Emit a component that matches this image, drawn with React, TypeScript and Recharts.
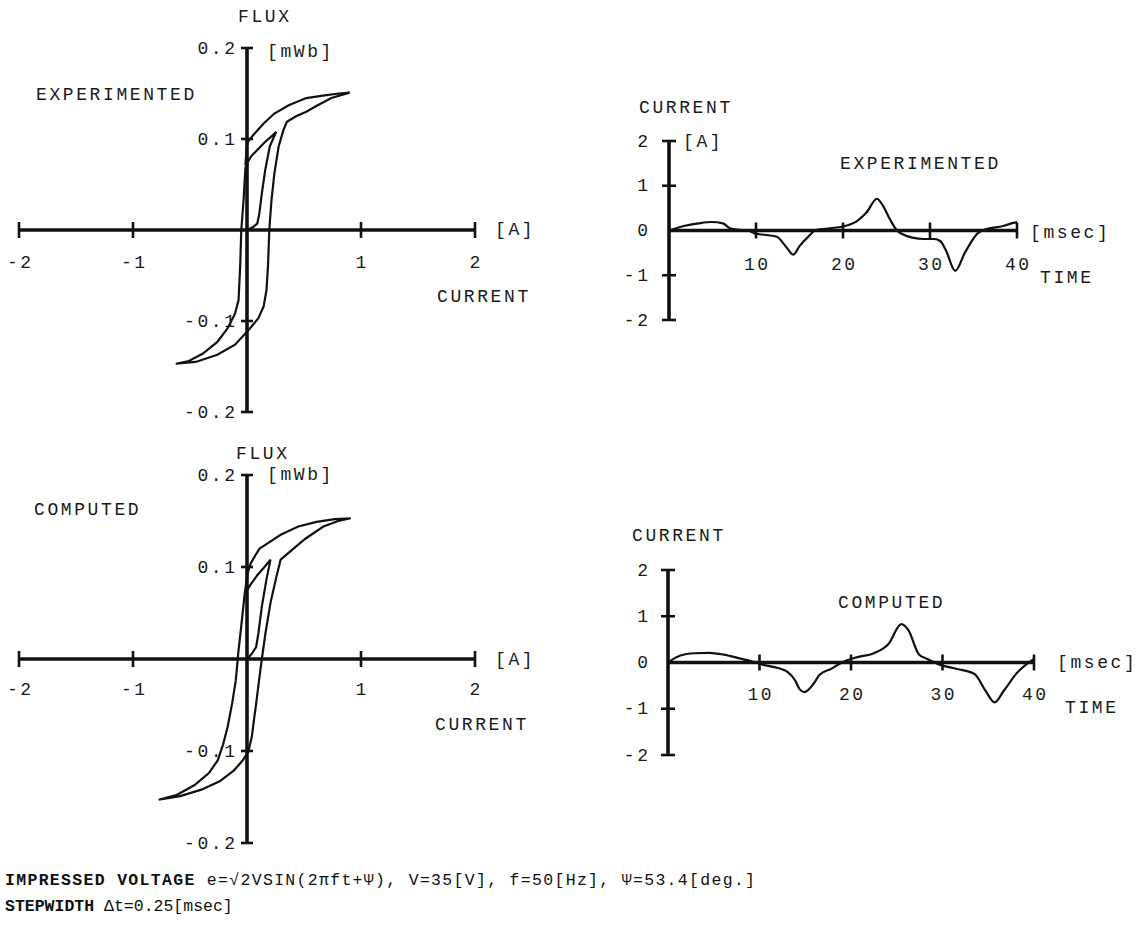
import React from 'react';
import { LineChart, Line, XAxis, YAxis, ReferenceLine, ReferenceDot } from 'recharts';

// ---------- DATA ----------
// Experimented hysteresis loop (current [A], flux [mWb]) in drawing order
const expLoopCurrent = [0.0, 0.05, 0.09, 0.108, 0.13, 0.16, 0.2, 0.256, 0.225, 0.16, 0.09, 0.036, 0.0, -0.014, -0.03, -0.05, -0.06, -0.074, -0.105, -0.17, -0.26, -0.39, -0.51, -0.625, -0.45, -0.26, -0.105, 0.02, 0.1, 0.146, 0.171, 0.184, 0.196, 0.215, 0.24, 0.278, 0.32, 0.35, 0.43, 0.52, 0.62, 0.74, 0.9, 0.806, 0.68, 0.52, 0.366, 0.24, 0.146, 0.067, 0.02, 0.0, -0.014];
const expLoopFlux = [0.0, 0.003, 0.007, 0.018, 0.04, 0.066, 0.092, 0.108, 0.104, 0.097, 0.088, 0.081, 0.073, 0.068, 0.033, 0.0, -0.04, -0.077, -0.092, -0.108, -0.123, -0.136, -0.144, -0.147, -0.145, -0.137, -0.126, -0.109, -0.097, -0.084, -0.066, -0.04, 0.001, 0.033, 0.062, 0.092, 0.11, 0.119, 0.125, 0.13, 0.137, 0.145, 0.151, 0.15, 0.148, 0.145, 0.137, 0.128, 0.117, 0.106, 0.099, 0.095, 0.071];

// Computed hysteresis loop
const compLoopCurrent = [0.0, 0.043, 0.08, 0.1, 0.13, 0.17, 0.206, 0.153, 0.09, 0.037, -0.02, -0.045, -0.077, -0.098, -0.13, -0.17, -0.21, -0.256, -0.334, -0.46, -0.62, -0.775, -0.586, -0.4, -0.24, -0.114, -0.036, 0.011, 0.043, 0.059, 0.081, 0.106, 0.13, 0.162, 0.206, 0.257, 0.295, 0.39, 0.515, 0.67, 0.8, 0.91, 0.77, 0.61, 0.45, 0.295, 0.184, 0.11, 0.075, 0.033, 0.005, -0.02];
const compLoopFlux = [0.0, 0.006, 0.013, 0.028, 0.057, 0.086, 0.108, 0.1, 0.091, 0.082, 0.071, 0.042, 0.006, -0.023, -0.048, -0.074, -0.093, -0.11, -0.124, -0.137, -0.148, -0.153, -0.149, -0.142, -0.133, -0.121, -0.11, -0.101, -0.084, -0.068, -0.048, -0.023, 0.0, 0.028, 0.061, 0.089, 0.108, 0.118, 0.131, 0.144, 0.15, 0.153, 0.152, 0.149, 0.144, 0.135, 0.126, 0.12, 0.113, 0.104, 0.093, 0.071];

// Experimented current waveform (time [msec], current [A])
const expTime = [0, 1.7, 3.4, 4.9, 6.2, 7.0, 7.8, 9.1, 9.9, 10.7, 12.4, 13.4, 14.3, 15.0, 16.1, 16.9, 18.5, 20.2, 21.6, 22.7, 23.9, 24.6, 25.4, 26.2, 26.8, 28.0, 29.3, 30.5, 31.2, 31.8, 32.9, 34.0, 35.5, 36.3, 38.4, 39.6, 40.0];
const expCurrent = [0, 0.1, 0.16, 0.19, 0.16, 0.05, 0.02, 0, -0.07, -0.09, -0.14, -0.35, -0.54, -0.35, -0.12, 0.01, 0.05, 0.1, 0.21, 0.4, 0.71, 0.55, 0.25, 0, -0.08, -0.16, -0.19, -0.19, -0.24, -0.43, -0.9, -0.5, -0.06, 0.02, 0.1, 0.17, 0.19];

// Computed current waveform
const compTime = [0, 1.36, 2.9, 4.5, 6.1, 7.6, 9.2, 10.4, 12.0, 13.1, 13.9, 14.4, 14.9, 15.4, 15.9, 16.6, 17.8, 19.0, 20.6, 22.5, 24.1, 25.5, 26.3, 27.4, 28.4, 29.6, 31.6, 33.5, 34.7, 35.7, 36.7, 38.2, 40.0];
const compCurrent = [0, 0.15, 0.2, 0.21, 0.17, 0.1, 0.02, -0.05, -0.12, -0.21, -0.39, -0.58, -0.64, -0.58, -0.46, -0.26, -0.14, 0, 0.11, 0.2, 0.4, 0.83, 0.69, 0.18, 0.07, -0.04, -0.14, -0.25, -0.61, -0.86, -0.61, -0.21, 0.08];

// Tick values and labels
const loopXTicks = [-2, -1, 1, 2];
const loopXLabels = ['-2', '-1', '1', '2'];
const loopYTicks = [0.2, 0.1, -0.1, -0.2];
const loopYLabels = ['0.2', '0.1', '-0.1', '-0.2'];
const waveXTicks = [10, 20, 30, 40];
const waveXLabels = ['10', '20', '30', '40'];
const waveYTicks = [2, 1, 0, -1, -2];
const waveYLabels = ['2', '1', '0', '-1', '-2'];
const waveYTickMarks = [true, true, false, true, true];

// ---------- STYLE ----------
const FONT = "'Liberation Mono', 'DejaVu Sans Mono', monospace";
const FS = 18;
const LS = 2.6;
const textStyle: React.CSSProperties = { fontFamily: FONT, fontSize: FS, letterSpacing: LS, fill: '#1a1a1a' };
const footStyle: React.CSSProperties = { fontFamily: FONT, fontSize: 16.5, fill: '#111' };
const INK = '#111';

const zip = (xs: number[], ys: number[]) => xs.map((x, i) => ({ x, y: ys[i] }));

type PanelProps = {
  left: number; top: number; width: number; height: number;
  margin: { top: number; right: number; bottom: number; left: number };
  xDomain: [number, number]; yDomain: [number, number];
  data: { x: number; y: number }[];
  curve: 'linear' | 'monotone';
  xTicks: number[]; xLabels: string[];
  yTicks: number[]; yLabels: string[]; yMarks?: boolean[];
  xHalf: number; yHalf: number; xLabelDy: number; yLabelGap: number;
};

function Panel(p: PanelProps) {
  const xShape = (label: string) => (s: any) => {
    const cx = Number(s.cx), cy = Number(s.cy);
    return (
      <g>
        <line x1={cx} x2={cx} y1={cy - p.xHalf} y2={cy + p.xHalf} stroke={INK} strokeWidth={2.6} />
        <text x={cx + LS / 2} y={cy + p.xLabelDy} textAnchor="middle" style={textStyle}>{label}</text>
      </g>
    );
  };
  const yShape = (label: string, mark: boolean) => (s: any) => {
    const cx = Number(s.cx), cy = Number(s.cy);
    return (
      <g>
        {mark && <line x1={cx - p.yHalf} x2={cx + p.yHalf} y1={cy} y2={cy} stroke={INK} strokeWidth={2.6} />}
        <text x={cx - p.yLabelGap + LS} y={cy + 5.5} textAnchor="end" style={textStyle}>{label}</text>
      </g>
    );
  };
  return (
    <div style={{ position: 'absolute', left: p.left, top: p.top }}>
      <LineChart width={p.width} height={p.height} margin={p.margin}>
        <XAxis type="number" dataKey="x" domain={p.xDomain} hide allowDataOverflow />
        <YAxis type="number" dataKey="y" domain={p.yDomain} hide allowDataOverflow />
        <ReferenceLine x={0} stroke={INK} strokeWidth={3.6} ifOverflow="visible" />
        <ReferenceLine y={0} stroke={INK} strokeWidth={3.6} ifOverflow="visible" />
        {p.xTicks.map((t, i) => (
          <ReferenceDot key={'x' + t} x={t} y={0} r={1} ifOverflow="visible" shape={xShape(p.xLabels[i])} />
        ))}
        {p.yTicks.map((t, i) => (
          <ReferenceDot key={'y' + t} x={0} y={t} r={1} ifOverflow="visible"
            shape={yShape(p.yLabels[i], p.yMarks ? p.yMarks[i] : true)} />
        ))}
        <Line data={p.data} dataKey="y" type={p.curve} dot={false} stroke={INK}
          strokeWidth={2.2} isAnimationActive={false} activeDot={false} />
      </LineChart>
    </div>
  );
}

const annotations: { t: string; x: number; y: number }[] = [
  { t: 'FLUX', x: 238, y: 22 },
  { t: '[mWb]', x: 267, y: 57 },
  { t: 'EXPERIMENTED', x: 36, y: 100 },
  { t: '[A]', x: 495, y: 235 },
  { t: 'CURRENT', x: 437, y: 302 },
  { t: 'CURRENT', x: 639, y: 113 },
  { t: '[A]', x: 683, y: 147 },
  { t: 'EXPERIMENTED', x: 840, y: 169 },
  { t: '[msec]', x: 1030, y: 238 },
  { t: 'TIME', x: 1040, y: 283 },
  { t: 'FLUX', x: 236, y: 459 },
  { t: '[mWb]', x: 267, y: 480 },
  { t: 'COMPUTED', x: 34, y: 515 },
  { t: '[A]', x: 495, y: 665 },
  { t: 'CURRENT', x: 435, y: 730 },
  { t: 'CURRENT', x: 632, y: 541 },
  { t: 'COMPUTED', x: 838, y: 608 },
  { t: '[msec]', x: 1057, y: 668 },
  { t: 'TIME', x: 1065, y: 713 },
];

export default function App() {
  return (
    <div style={{ position: 'absolute', left: 0, top: 0, width: 1140, height: 929, background: '#fff', overflow: 'hidden' }}>
      <Panel left={0} top={0} width={560} height={440}
        margin={{ top: 48, left: 19, right: 85, bottom: 28 }}
        xDomain={[-2, 2]} yDomain={[-0.2, 0.2]}
        data={zip(expLoopCurrent, expLoopFlux)} curve="linear"
        xTicks={loopXTicks} xLabels={loopXLabels} yTicks={loopYTicks} yLabels={loopYLabels}
        xHalf={8} yHalf={6} xLabelDy={38} yLabelGap={12} />
      <Panel left={600} top={80} width={540} height={280}
        margin={{ top: 61, left: 69, right: 123, bottom: 40 }}
        xDomain={[0, 40]} yDomain={[-2, 2]}
        data={zip(expTime, expCurrent)} curve="monotone"
        xTicks={waveXTicks} xLabels={waveXLabels} yTicks={waveYTicks} yLabels={waveYLabels} yMarks={waveYTickMarks}
        xHalf={8} yHalf={7} xLabelDy={39} yLabelGap={21} />
      <Panel left={0} top={440} width={560} height={420}
        margin={{ top: 35, left: 19, right: 85, bottom: 17 }}
        xDomain={[-2, 2]} yDomain={[-0.2, 0.2]}
        data={zip(compLoopCurrent, compLoopFlux)} curve="linear"
        xTicks={loopXTicks} xLabels={loopXLabels} yTicks={loopYTicks} yLabels={loopYLabels}
        xHalf={8} yHalf={6} xLabelDy={36} yLabelGap={12} />
      <Panel left={600} top={520} width={540} height={260}
        margin={{ top: 50, left: 68, right: 106, bottom: 25 }}
        xDomain={[0, 40]} yDomain={[-2, 2]}
        data={zip(compTime, compCurrent)} curve="monotone"
        xTicks={waveXTicks} xLabels={waveXLabels} yTicks={waveYTicks} yLabels={waveYLabels} yMarks={waveYTickMarks}
        xHalf={8} yHalf={7} xLabelDy={37} yLabelGap={20} />
      <svg width={1140} height={929} style={{ position: 'absolute', left: 0, top: 0, pointerEvents: 'none' }}>
        {annotations.map((a, i) => (
          <text key={i} x={a.x} y={a.y} style={textStyle}>{a.t}</text>
        ))}
        <text x={5} y={885} textLength={750} lengthAdjust="spacing" style={footStyle}>
          <tspan fontWeight="bold">IMPRESSED VOLTAGE</tspan>{' e=√2VSIN(2πft+Ψ), V=35[V], f=50[Hz], Ψ=53.4[deg.]'}
        </text>
        <text x={5} y={911} style={footStyle}>
          <tspan fontWeight="bold">STEPWIDTH</tspan>{' Δt=0.25[msec]'}
        </text>
      </svg>
    </div>
  );
}
